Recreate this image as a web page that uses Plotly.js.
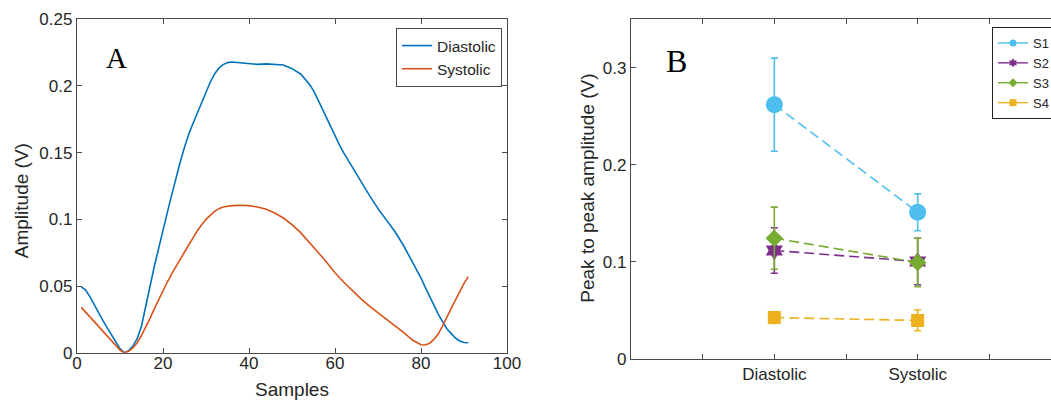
<!DOCTYPE html>
<html>
<head>
<meta charset="utf-8">
<script src="https://cdn.plot.ly/plotly-3.0.1.min.js"></script>
<style>
html, body { margin:0; padding:0; overflow:hidden; background:#fff; }
#c { width:1080px; height:401px; }
</style>
</head>
<body>
<div id="c"></div>
<script>
// ---------- Panel A data ----------
const diaSamples = [1,2,3,4,5,6,7,8,9,10,11,12,13,14,15,16,17,18,19,20,21,22,23,24,25,26,27,28,29,30,31,32,33,34,35,36,38,40,42,44,46,48,50,52,54,55,56,57,58,59,60,61,62,63,64,66,68,70,72,74,76,78,80,81,82,83,84,85,86,87,88,89,90,91];
const diaValues  = [0.0494,0.047,0.042,0.0357,0.030,0.0243,0.0188,0.0135,0.008,0.003,0.0,0.0015,0.005,0.0105,0.020,0.034,0.050,0.065,0.079,0.092,0.105,0.118,0.131,0.143,0.154,0.164,0.172,0.180,0.188,0.196,0.203,0.209,0.2135,0.216,0.2175,0.2180,0.2174,0.2165,0.2162,0.2166,0.2163,0.2157,0.2130,0.2090,0.2015,0.1965,0.190,0.183,0.176,0.169,0.162,0.156,0.150,0.1445,0.139,0.1285,0.118,0.108,0.099,0.0905,0.080,0.0685,0.056,0.049,0.042,0.035,0.029,0.0235,0.018,0.0145,0.011,0.0088,0.0077,0.0075];
const sysSamples = [1,2,3,4,5,6,7,8,9,10,11,12,13,14,15,16,17,18,19,20,21,22,23,24,25,26,27,28,29,30,31,32,33,34,36,38,40,42,44,46,48,50,52,54,56,58,60,62,64,66,68,70,72,74,76,78,79,80,81,82,83,84,85,86,87,88,89,90,91];
const sysValues  = [0.034,0.0305,0.027,0.0235,0.020,0.0163,0.0127,0.009,0.0055,0.002,0.0,0.001,0.0035,0.0075,0.013,0.019,0.026,0.033,0.040,0.047,0.053,0.059,0.065,0.070,0.0755,0.081,0.0865,0.0915,0.096,0.100,0.103,0.106,0.108,0.1093,0.1103,0.1106,0.1103,0.1092,0.1075,0.1047,0.101,0.096,0.090,0.083,0.0755,0.068,0.060,0.053,0.0465,0.0405,0.035,0.030,0.0255,0.0205,0.015,0.0095,0.0075,0.006,0.0058,0.007,0.010,0.014,0.020,0.027,0.033,0.0395,0.046,0.052,0.057];
const seriesANames = ["Diastolic", "Systolic"];

// ---------- Panel B data ----------
const phaseCats   = ["Diastolic", "Systolic"];
const phasePos    = [1, 2];
const bTickVals   = [0, 0.5, 1, 1.5, 2, 2.5, 3];
const bTickText   = ["", "", "Diastolic", "", "Systolic", "", ""];
const s1Mean = [0.262, 0.151];  const s1Err = [0.048, 0.019];
const s2Mean = [0.1116, 0.1002]; const s2Err = [0.0235, 0.024];
const s3Mean = [0.1243, 0.0992]; const s3Err = [0.032, 0.025];
const s4Mean = [0.0424, 0.0395]; const s4Err = [0.006, 0.0107];
const subjNames = ["S1", "S2", "S3", "S4"];

const W = 1080, H = 401;
const FONT = '"Liberation Sans", Arial, Helvetica, sans-serif';
const SERIF = '"Liberation Serif", "Times New Roman", serif';
const TXT = '#262626';
const AX = '#4a4a4a';
const px = x => x / W;
const py = y => 1 - y / H;

const traces = [
  {x: diaSamples, y: diaValues, name: seriesANames[0], type: 'scatter', mode: 'lines',
   line: {color: '#0072BD', width: 1.6, shape: 'linear'}, xaxis: 'x', yaxis: 'y', legend: 'legend'},
  {x: sysSamples, y: sysValues, name: seriesANames[1], type: 'scatter', mode: 'lines',
   line: {color: '#D95319', width: 1.6, shape: 'linear'}, xaxis: 'x', yaxis: 'y', legend: 'legend'}
];

const subj = [
  {m: s1Mean, e: s1Err, c: '#4DBEEE', sym: 'circle', size: 17},
  {m: s2Mean, e: s2Err, c: '#7E2F8E', sym: 'hexagram', size: 15},
  {m: s3Mean, e: s3Err, c: '#77AC30', sym: 'diamond', size: 13.5},
  {m: s4Mean, e: s4Err, c: '#EDB120', sym: 'square', size: 13}
];
subj.forEach((s, i) => {
  traces.push({
    x: phasePos, y: s.m, name: subjNames[i], type: 'scatter', mode: 'lines+markers',
    text: phaseCats, hoverinfo: 'text+y+name',
    line: {color: s.c, width: 1.6, dash: '10px,5px'},
    marker: {color: s.c, symbol: s.sym, size: s.size, line: {width: 0}},
    error_y: {type: 'data', array: s.e, visible: true, color: s.c, thickness: 1.6, width: 3.5},
    xaxis: 'x2', yaxis: 'y2', showlegend: false
  });
});
// legend entries (small markers like the reference legend)
subj.forEach((s, i) => {
  traces.push({
    x: [null], y: [null], name: subjNames[i], type: 'scatter', mode: 'lines+markers',
    line: {color: s.c, width: 1.4},
    marker: {color: s.c, symbol: s.sym, size: 7},
    xaxis: 'x2', yaxis: 'y2', legend: 'legend2', hoverinfo: 'skip'
  });
});

const axBase = {
  showline: true, linecolor: AX, linewidth: 1.2, mirror: 'ticks',
  ticks: 'inside', ticklen: 5, tickwidth: 1, tickcolor: AX,
  showgrid: false, zeroline: false,
  tickfont: {family: FONT, size: 17, color: TXT}
};

const layout = {
  width: W, height: H,
  margin: {l: 0, r: 0, t: 0, b: 0},
  paper_bgcolor: '#fff', plot_bgcolor: '#fff',
  font: {family: FONT, color: TXT},
  xaxis: Object.assign({}, axBase, {domain: [px(77), px(507)], range: [0, 100], tickvals: [0,20,40,60,80,100], anchor: 'y', ticklabelstandoff: -5}),
  yaxis: Object.assign({}, axBase, {domain: [py(352.7), py(19.3)], range: [0, 0.25], tickvals: [0,0.05,0.1,0.15,0.2,0.25], anchor: 'x'}),
  xaxis2: Object.assign({}, axBase, {domain: [px(631), px(1061)], range: [0, 3], tickvals: bTickVals, ticktext: bTickText, anchor: 'y2'}),
  yaxis2: Object.assign({}, axBase, {domain: [py(358.7), py(19.3)], range: [0, 0.35], tickvals: [0,0.1,0.2,0.3], anchor: 'x2'}),
  legend: {x: px(396), y: py(28), xanchor: 'left', yanchor: 'top', bgcolor: '#fff',
           bordercolor: AX, borderwidth: 1, font: {family: FONT, size: 15.5, color: TXT}, tracegroupgap: 0},
  legend2: {x: px(992), y: py(27), xanchor: 'left', yanchor: 'top', bgcolor: '#fff',
           bordercolor: '#222', borderwidth: 1, font: {family: FONT, size: 13, color: TXT},
           itemsizing: 'trace', tracegroupgap: 0},
  showlegend: true,
  annotations: [
    {text: 'Samples', x: px(292), y: py(389), xref: 'paper', yref: 'paper', showarrow: false,
     xanchor: 'center', yanchor: 'middle', font: {family: FONT, size: 19, color: TXT}},
    {text: 'Amplitude (V)', x: px(21.7), y: py(200.5), xref: 'paper', yref: 'paper', showarrow: false,
     textangle: -90, xanchor: 'center', yanchor: 'middle', font: {family: FONT, size: 19, color: TXT}},
    {text: 'Peak to peak amplitude (V)', x: px(586.7), y: py(188), xref: 'paper', yref: 'paper', showarrow: false,
     textangle: -90, xanchor: 'center', yanchor: 'middle', font: {family: FONT, size: 19, color: TXT}},
    {text: 'A', x: px(116), y: py(57.5), xref: 'paper', yref: 'paper', showarrow: false,
     xanchor: 'center', yanchor: 'middle', font: {family: SERIF, size: 29, color: '#000'}},
    {text: 'B', x: px(676), y: py(61.5), xref: 'paper', yref: 'paper', showarrow: false,
     xanchor: 'center', yanchor: 'middle', font: {family: SERIF, size: 32, color: '#000'}}
  ]
};

Plotly.newPlot('c', traces, layout, {displayModeBar: false, staticPlot: true});
</script>
</body>
</html>
